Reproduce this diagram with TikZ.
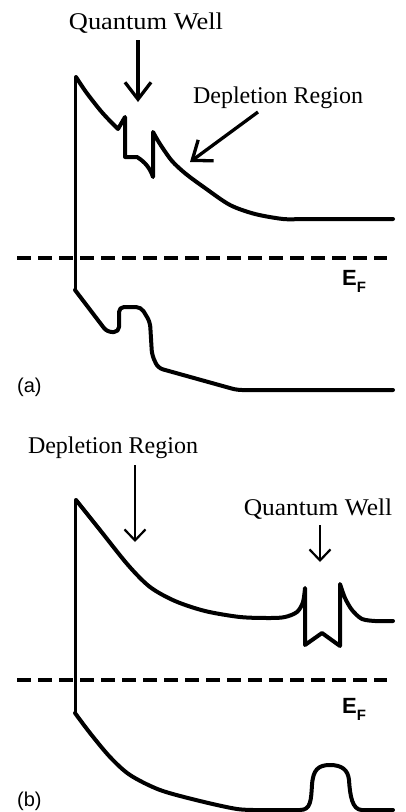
\documentclass[tikz,border=0pt]{standalone}
\usepackage{fontspec}
\setmainfont{Liberation Serif}
\setsansfont{Liberation Sans}
\usetikzlibrary{arrows.meta}
\begin{document}
\begin{tikzpicture}[x=1pt,y=-1pt,
  band/.style={line width=4pt, line join=round, line cap=round},
  wall/.style={line width=3pt},
  fermi/.style={line width=3.3pt, dash pattern=on 14pt off 7pt},
  bigarr/.style={line width=3.3pt, -{Straight Barb[length=17pt,width=26pt]}},
  smallarr/.style={line width=2.2pt, -{Straight Barb[length=11pt,width=21pt]}},
  lbl/.style={font=\fontsize{24}{24}\selectfont, inner sep=0pt},
  tag/.style={font=\sffamily\fontsize{20}{20}\selectfont, inner sep=0pt},
  ef/.style={font=\sffamily\bfseries\fontsize{22}{22}\selectfont, inner sep=0pt}]
\useasboundingbox[fill=white] (0,0) rectangle (406,812);

% ---------- panel (a) ----------
\node[lbl,anchor=base] (qw1) at (146,29) {\scalebox{1.1}[1]{Quantum Well}};
\node[lbl,anchor=base] (dep1) at (278,103) {Depletion Region};
\coordinate (qwtail1) at (138,40);
\coordinate (qwtip1) at (138,102);
\coordinate (deptail1) at (258,112);
\coordinate (deptip1) at (190,162);
\draw[bigarr] (qwtail1) -- (qwtip1);
\draw[bigarr] (deptail1) -- (deptip1);

\draw[wall] (75,77) -- (75,290);
\draw[band] plot[smooth,tension=0.5] coordinates {(76,77) (86,92) (100,110) (110,121) (118,129)}
  -- (125,117) -- (125,157) -- (137,157) .. controls (145,162) and (150,168) .. (153,177)
  -- plot[smooth] coordinates {(153,132) (160,144) (172,161) (186,174) (205,188) (230,205) (255,214) (283,219) (300,219)}
  -- (393,219);
\draw[band,rounded corners=5pt] (75,290) -- (107,332) -- (119,332) -- (119,307) -- (141,307)
  -- (150,322) -- (152,355) -- (158,368) -- (237,390) -- (393,390);

\coordinate (fa1) at (17,258);
\coordinate (fa2) at (387,258);
\draw[fermi] (fa1) -- (fa2);
\node[ef,anchor=base west] (efa) at (342,285) {E\raisebox{-7pt}{\fontsize{15}{15}\selectfont F}};
\node[tag,anchor=base west] (taga) at (17,392) {(a)};

% ---------- panel (b) ----------
\node[lbl,anchor=base] (dep2) at (113,453) {Depletion Region};
\node[lbl,anchor=base] (qw2) at (318,515) {\scalebox{1.06}[1]{Quantum Well}};
\coordinate (deptail2) at (135,465);
\coordinate (deptip2) at (135,542);
\coordinate (qwtail2) at (320,525);
\coordinate (qwtip2) at (320,562);
\draw[smallarr] (deptail2) -- (deptip2);
\draw[smallarr] (qwtail2) -- (qwtip2);

\draw[wall] (75,500) -- (75,713);
\draw[band] plot[smooth] coordinates {(76,500) (100,530) (128,565) (150,587) (175,601) (205,611) (240,617) (270,618) (285,617) (297,612) (303,602) (305,588)}
  -- (305,645) -- (322,633) -- (340,646)
  -- plot[smooth] coordinates {(340,584) (345,598) (352,610) (362,619) (375,621)}
  -- (393,621);
\draw[band] plot[smooth] coordinates {(75,713) (90,733) (110,757) (130,775) (160,790) (200,801) (237,809) (260,810)}
  -- (300,810) .. controls (311,810) and (311,800) .. (312,785)
  .. controls (313,770) and (318,765) .. (330,765)
  .. controls (342,765) and (348,770) .. (349,780)
  .. controls (350,795) and (352,810) .. (362,810) -- (393,810);

\coordinate (fb1) at (17,680);
\coordinate (fb2) at (387,680);
\draw[fermi] (fb1) -- (fb2);
\node[ef,anchor=base west] (efb) at (342,713) {E\raisebox{-7pt}{\fontsize{15}{15}\selectfont F}};
\node[tag,anchor=base west] (tagb) at (17,806) {(b)};
\end{tikzpicture}
\end{document}
